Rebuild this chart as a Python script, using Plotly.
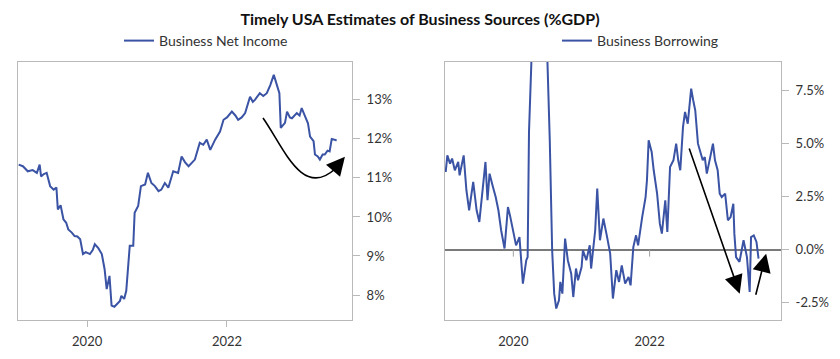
import pandas as pd
import plotly.graph_objects as go

TITLE = "Timely USA Estimates of Business Sources (%GDP)"

# Business Net Income (% of GDP) -- decimal year, value
ni_t = [2019.02, 2019.08, 2019.15, 2019.22, 2019.28, 2019.32, 2019.34, 2019.38, 2019.42, 2019.47,
        2019.52, 2019.56, 2019.58, 2019.62, 2019.66, 2019.70, 2019.73, 2019.78, 2019.82, 2019.86,
        2019.90, 2019.94, 2019.98, 2020.04, 2020.08, 2020.11, 2020.16, 2020.21, 2020.25, 2020.28,
        2020.32, 2020.35, 2020.39, 2020.44, 2020.47, 2020.49, 2020.53, 2020.56, 2020.61, 2020.66,
        2020.68, 2020.73, 2020.77, 2020.83, 2020.87, 2020.92, 2020.97, 2021.02, 2021.06, 2021.11,
        2021.16, 2021.23, 2021.30, 2021.35, 2021.40, 2021.45, 2021.50, 2021.54, 2021.61, 2021.66,
        2021.71, 2021.76, 2021.83, 2021.90, 2021.95, 2022.00, 2022.07, 2022.12, 2022.16, 2022.21,
        2022.26, 2022.33, 2022.37, 2022.40, 2022.47, 2022.52, 2022.57, 2022.62, 2022.67, 2022.71,
        2022.75, 2022.77, 2022.80, 2022.83, 2022.86, 2022.90, 2022.93, 2022.97, 2023.00, 2023.04,
        2023.07, 2023.12, 2023.16, 2023.19, 2023.24, 2023.26, 2023.30, 2023.33, 2023.37, 2023.40,
        2023.44, 2023.47, 2023.50, 2023.54, 2023.57]
ni_v = [11.34, 11.30, 11.17, 11.20, 11.13, 11.34, 11.04, 11.10, 11.13, 10.79,
        10.70, 10.75, 10.19, 10.30, 9.94, 9.85, 9.68, 9.60, 9.51, 9.50,
        9.43, 9.05, 9.10, 9.05, 9.15, 9.30, 9.20, 9.05, 8.66, 8.15,
        8.49, 7.73, 7.70, 7.81, 7.85, 7.98, 7.90, 8.11, 9.26, 9.26,
        10.11, 10.28, 10.79, 10.83, 11.13, 10.87, 10.79, 10.66, 10.70, 10.87,
        10.75, 11.17, 11.13, 11.55, 11.40, 11.30, 11.40, 11.47, 11.90, 11.85,
        11.98, 11.72, 11.98, 12.19, 12.49, 12.55, 12.70, 12.60, 12.49, 12.55,
        12.66, 13.08, 12.95, 13.00, 13.17, 13.10, 13.17, 13.38, 13.64, 13.38,
        13.17, 12.28, 12.35, 12.41, 12.70, 12.55, 12.53, 12.60, 12.66, 12.60,
        12.79, 12.57, 12.40, 12.06, 11.94, 11.60, 11.55, 11.47, 11.60, 11.60,
        11.70, 11.68, 12.00, 11.98, 11.96]

# Business Borrowing (% of GDP) -- decimal year, value
bb_t = [2019.006, 2019.03, 2019.07, 2019.10, 2019.14, 2019.19, 2019.21, 2019.27, 2019.31, 2019.35,
        2019.41, 2019.46, 2019.50, 2019.54, 2019.59, 2019.62, 2019.65, 2019.70, 2019.74, 2019.78,
        2019.82, 2019.87, 2019.92, 2019.95, 2020.00, 2020.04, 2020.09, 2020.14, 2020.19, 2020.21,
        2020.23, 2020.26, 2020.32, 2020.42, 2020.49, 2020.535, 2020.545, 2020.57, 2020.60, 2020.63,
        2020.67, 2020.69, 2020.72, 2020.76, 2020.80, 2020.85, 2020.88, 2020.92, 2020.95, 2021.00,
        2021.02, 2021.07, 2021.12, 2021.14, 2021.20, 2021.23, 2021.27, 2021.32, 2021.37, 2021.42,
        2021.46, 2021.51, 2021.55, 2021.59, 2021.64, 2021.69, 2021.72, 2021.76, 2021.80, 2021.83,
        2021.89, 2021.94, 2021.96, 2021.985, 2022.03, 2022.06, 2022.11, 2022.15, 2022.18, 2022.23,
        2022.26, 2022.30, 2022.35, 2022.39, 2022.42, 2022.45, 2022.49, 2022.52, 2022.56, 2022.61,
        2022.64, 2022.67, 2022.71, 2022.75, 2022.78, 2022.81, 2022.84, 2022.89, 2022.93, 2022.96,
        2023.00, 2023.03, 2023.06, 2023.11, 2023.15, 2023.19, 2023.23, 2023.245, 2023.27, 2023.32,
        2023.36, 2023.38, 2023.43, 2023.47, 2023.49, 2023.53, 2023.57, 2023.60]
bb_v = [3.65, 4.43, 4.04, 4.28, 3.73, 4.12, 3.49, 4.43, 2.79, 1.85,
        3.18, 1.85, 1.30, 2.47, 4.12, 2.32, 3.57, 2.94, 2.47, 1.85,
        0.91, 0.05, 2.00, 1.61, 0.75, 0.20, 0.59, -1.60, -0.50, -0.35,
        5.53, 10.0, 14.0, 13.0, 10.0, 5.14, 3.49, -0.03, -2.07, -2.77,
        -2.38, -1.52, -2.07, 0.52, -0.50, -1.13, -2.23, -0.89, -1.44, -0.82,
        -0.03, -0.50, 0.20, -0.89, 0.91, 2.87, 0.44, 1.46, 0.67, -0.19,
        -2.30, -0.97, -1.52, -0.74, -1.60, -1.29, -1.68, 0.12, 0.67, 0.20,
        1.53, 2.47, 3.26, 5.14, 4.59, 3.73, 2.63, 1.22, 0.75, 2.32,
        0.83, 3.88, 4.20, 4.98, 4.20, 3.73, 5.76, 6.47, 5.92, 7.57,
        7.02, 6.55, 4.98, 4.59, 4.20, 4.35, 3.57, 4.35, 4.98, 4.20,
        3.73, 2.63, 2.47, 2.63, 1.38, 1.53, 2.16, 0.75, -0.35, -0.58,
        0.12, 0.44, -0.35, -1.99, 0.59, 0.67, 0.36, -0.42]

x_tickvals = ["2020-01-01", "2022-01-01"]
x_ticktext = ["2020", "2022"]
ni_tickvals = [8, 9, 10, 11, 12, 13]
ni_ticktext = ["8%", "9%", "10%", "11%", "12%", "13%"]
bb_tickvals = [-2.5, 0, 2.5, 5, 7.5]
bb_ticktext = ["-2.5%", "0.0%", "2.5%", "5.0%", "7.5%"]


def to_date(y):
    yr = int(y)
    return pd.Timestamp(year=yr, month=1, day=1) + pd.Timedelta(days=(y - yr) * 365.25)


LINE = "#3a53a4"
FONT = "Lato"
W, H = 840, 359
# plot area in pixels
ML, MR, MT, MB = 18, 59, 62, 39
PW, PH = W - ML - MR, H - MT - MB


def dx(p):  # pixel x -> domain fraction of plot area
    return (p - ML) / PW


def px(x):  # pixel x -> paper fraction (paper = plot area)
    return (x - ML) / PW


def py(y):
    return 1 - (y - MT) / PH


fig = go.Figure()
fig.add_trace(go.Scatter(x=[to_date(t) for t in ni_t], y=ni_v, mode="lines",
                         name="Business Net Income", line=dict(color=LINE, width=2),
                         xaxis="x", yaxis="y", legend="legend"))
fig.add_trace(go.Scatter(x=[to_date(t) for t in bb_t], y=bb_v, mode="lines",
                         name="Business Borrowing", line=dict(color=LINE, width=2),
                         xaxis="x2", yaxis="y2", legend="legend2"))

frame = dict(showline=True, linecolor="#b9b9b9", linewidth=1, mirror=True,
             showgrid=False, zeroline=False, automargin=False)
tickfont = dict(family=FONT, size=13, color="#333333")

ni_range = [7.36, 13.97]
bb_range = [-3.31, 8.82]
x1_range = [to_date(2019.01), to_date(2023.79)]
x2_range = [to_date(2018.995), to_date(2023.93)]

fig.update_layout(
    width=W, height=H,
    margin=dict(l=ML, r=MR, t=MT, b=MB, autoexpand=False),
    paper_bgcolor="white", plot_bgcolor="white",
    font=dict(family=FONT, color="#333333"),
    title=dict(text="<b>" + TITLE + "</b>", x=0.5, xref="container", xanchor="center",
               y=1 - 19 / H, yref="container", yanchor="middle", automargin=False,
               font=dict(family=FONT, size=16, color="#111111")),
    xaxis=dict(domain=[0, dx(352)], anchor="y", type="date", range=x1_range,
               tickvals=x_tickvals, ticktext=x_ticktext, ticks="outside", ticklen=6,
               ticklabelstandoff=3,
               tickcolor="#b9b9b9", tickfont=tickfont, **frame),
    yaxis=dict(domain=[0, 1], anchor="x", side="right", range=ni_range,
               tickvals=ni_tickvals, ticktext=ni_ticktext, ticks="outside", ticklen=7,
               ticklabelstandoff=4,
               tickcolor="#b9b9b9", tickfont=tickfont, **frame),
    xaxis2=dict(domain=[dx(445), 1], anchor="y2", type="date", range=x2_range,
                tickvals=x_tickvals, ticktext=x_ticktext, ticks="", ticklabelstandoff=9,
                tickfont=tickfont, **frame),
    yaxis2=dict(domain=[0, 1], anchor="x2", side="right", range=bb_range,
                tickvals=bb_tickvals, ticktext=bb_ticktext, ticks="outside", ticklen=7,
                ticklabelstandoff=4,
                tickcolor="#b9b9b9", tickfont=tickfont, automargin=False,
                showline=True, linecolor="#b9b9b9", linewidth=1, mirror=True, showgrid=False,
                zeroline=True, zerolinecolor="#7a7a7a", zerolinewidth=2),
    legend=dict(x=px(119), xanchor="left", y=py(41), yanchor="middle", orientation="h",
                font=dict(family=FONT, size=14, color="#333333"), bgcolor="rgba(0,0,0,0)"),
    legend2=dict(x=px(557), xanchor="left", y=py(41), yanchor="middle", orientation="h",
                 font=dict(family=FONT, size=14, color="#333333"), bgcolor="rgba(0,0,0,0)"),
    showlegend=True,
)

# small tick marks below the zero line of the right panel, at the x tick positions
for tv in x_tickvals:
    fig.add_shape(type="line", xref="x2", yref="y2", ysizemode="pixel", yanchor=0,
                  x0=tv, x1=tv, y0=0, y1=-7, line=dict(color="#a0a0a0", width=1))

# curved arrow on the left panel
fig.add_shape(type="path", xref="paper", yref="paper",
              path=f"M {px(263)},{py(118)} C {px(283.4)},{py(146.8)} {px(302)},{py(199)} {px(335)},{py(169)}",
              line=dict(color="black", width=1.6))
fig.add_annotation(x=to_date(2023.689), y=11.545, xref="x", yref="y", ax=-11, ay=13,
                   axref="pixel", ayref="pixel", showarrow=True, arrowhead=2, arrowsize=2.3,
                   arrowwidth=1.6, arrowcolor="black", text="", standoff=0, startstandoff=0)

# straight arrows on the right panel
fig.add_annotation(x=to_date(2023.324), y=-2.07, ax=to_date(2022.574), ay=4.82,
                   xref="x2", yref="y2", axref="x2", ayref="y2", showarrow=True, arrowhead=2,
                   arrowsize=2.3, arrowwidth=1.6, arrowcolor="black", text="")
fig.add_annotation(x=to_date(2023.712), y=-0.19, ax=to_date(2023.554), ay=-2.19,
                   xref="x2", yref="y2", axref="x2", ayref="y2", showarrow=True, arrowhead=2,
                   arrowsize=2.3, arrowwidth=1.6, arrowcolor="black", text="")

fig.write_html("out.html", config={"displayModeBar": False},
               post_script="document.body.style.margin='0';document.body.style.overflow='hidden';")
